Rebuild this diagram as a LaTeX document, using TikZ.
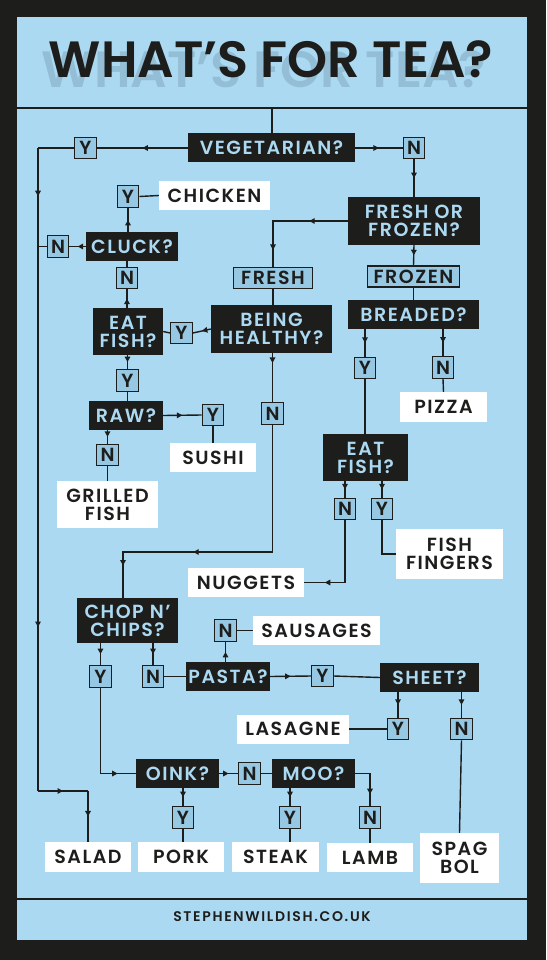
\documentclass[tikz,border=0pt]{standalone}
\usepackage{fontspec}
\newfontfamily\lbl{Poppins SemiBold}[LetterSpace=8]
\newfontfamily\headfont{Poppins SemiBold}
\newfontfamily\sitefont{Poppins SemiBold}[LetterSpace=12]
\usepackage{tikz}
\usetikzlibrary{arrows.meta, positioning, calc, decorations.markings}
\definecolor{mydark}{RGB}{29,29,27}
\definecolor{mysky}{RGB}{172,217,242}
\definecolor{myyn}{RGB}{150,200,228}
\definecolor{myghost}{RGB}{148,190,214}
\newcommand{\tagfont}{\lbl\fontsize{19}{18}\selectfont}
\tikzset{
  ask/.style={rectangle, fill=mydark, text=mysky, font=\tagfont,
    align=center, inner sep=0pt, minimum height=29pt},
  dish/.style={rectangle, fill=white, text=mydark, font=\tagfont,
    align=center, inner sep=0pt, minimum height=29pt},
  yn/.style={rectangle, draw=mydark, fill=myyn, text=mydark, font=\tagfont,
    line width=1.4pt, minimum width=21.5pt, minimum height=21.5pt, inner sep=0pt},
  pick/.style={yn, minimum height=21pt},
  link/.style={line width=1.4pt, draw=mydark},
  rule/.style={line width=1.8pt, draw=mydark},
  tipat/.style={postaction={decorate, decoration={markings,
    mark=at position #1 with {\arrow{Triangle[length=5.5pt,width=5.5pt]}}}}},
  arr/.style={tipat=0.5}
}
\begin{document}
\begin{tikzpicture}[x=1pt, y=-1pt]
  % frame and panel
  \fill[mydark] (0,0) rectangle (546,960);
  \fill[mysky] (17,17) rectangle (527,940);
  \useasboundingbox (0,0) rectangle (546,960);
  \draw[rule] (17,108) -- (527,108);
  \draw[rule] (17,899) -- (527,899);

  % heading with its shadow
  \node[font=\headfont\fontsize{51}{51}\selectfont, text=myghost, anchor=base] (ghost) at (264,88) {WHAT’S FOR TEA?};
  \node[font=\headfont\fontsize{51}{51}\selectfont, text=mydark, anchor=base] (title) at (271,78) {WHAT’S FOR TEA?};
  \node[font=\sitefont\fontsize{14}{14}\selectfont, text=mydark] (site) at (272,917) {STEPHENWILDISH.CO.UK};

  % questions
  \node[ask, minimum width=167pt] (veg) at (271.5,148) {VEGETARIAN?};
  \node[ask, minimum width=132pt, minimum height=48pt] (fof) at (414,221) {FRESH OR\\FROZEN?};
  \node[ask, minimum width=92pt] (cluck) at (132,246.5) {CLUCK?};
  \node[ask, minimum width=70pt, minimum height=47pt] (eatl) at (128,331.5) {EAT\\FISH?};
  \node[ask, minimum width=121pt, minimum height=48pt] (healthy) at (271.5,329) {BEING\\HEALTHY?};
  \node[ask, minimum width=131pt] (breaded) at (413.5,314.5) {BREADED?};
  \node[ask, minimum width=74pt] (raw) at (126,415.5) {RAW?};
  \node[ask, minimum width=85pt, minimum height=47pt] (eatr) at (365.5,457.5) {EAT\\FISH?};
  \node[ask, minimum width=101pt, minimum height=45pt] (chop) at (127.5,620.5) {CHOP N’\\CHIPS?};
  \node[ask, minimum width=84pt] (pasta) at (228,676.5) {PASTA?};
  \node[ask, minimum width=99pt] (sheet) at (429.5,677.5) {SHEET?};
  \node[ask, minimum width=83pt] (oink) at (177.5,773.5) {OINK?};
  \node[ask, minimum width=83pt] (moo) at (313.5,773.5) {MOO?};

  % fresh / frozen
  \node[pick, minimum width=78.5pt] (fresh) at (273,278) {FRESH};
  \node[pick, minimum width=91.5pt] (frozen) at (413.5,276.5) {FROZEN};

  % answers
  \node[yn] (vy) at (85.5,148) {Y};
  \node[yn] (vn) at (414,148) {N};
  \node[yn] (cy) at (128,196.5) {Y};
  \node[yn] (cn) at (58,246.5) {N};
  \node[yn] (en) at (127,278) {N};
  \node[yn] (ey) at (181.5,333) {Y};
  \node[yn] (ey2) at (127.5,380.5) {Y};
  \node[yn] (hn) at (272.5,413.5) {N};
  \node[yn] (ry) at (213,415) {Y};
  \node[yn] (rn) at (107.5,455) {N};
  \node[yn] (by) at (365,368) {Y};
  \node[yn] (bn) at (443,367.5) {N};
  \node[yn] (fn) at (345,509) {N};
  \node[yn] (fy) at (382,509) {Y};
  \node[yn] (cy2) at (100.5,676.5) {Y};
  \node[yn] (cn2) at (153,676.5) {N};
  \node[yn] (pn) at (225.5,630.5) {N};
  \node[yn] (py) at (322.5,676) {Y};
  \node[yn] (sy) at (398,729) {Y};
  \node[yn] (sn) at (461.5,729) {N};
  \node[yn] (on) at (249.5,773.5) {N};
  \node[yn] (oy) at (183,817.5) {Y};
  \node[yn] (my) at (290,817.5) {Y};
  \node[yn] (mn) at (370,817.5) {N};

  % dishes
  \node[dish, minimum width=111pt] (chicken) at (214.5,195.5) {CHICKEN};
  \node[dish, minimum width=87pt, minimum height=30pt] (pizza) at (443.5,407) {PIZZA};
  \node[dish, minimum width=86pt] (sushi) at (213,457.5) {SUSHI};
  \node[dish, minimum width=101pt, minimum height=47pt] (grilled) at (107.5,504.5) {GRILLED\\FISH};
  \node[dish, minimum width=107pt, minimum height=50pt] (fingers) at (449.5,554) {FISH\\FINGERS};
  \node[dish, minimum width=116pt] (nuggets) at (246,582.5) {NUGGETS};
  \node[dish, minimum width=127pt] (sausages) at (316.5,630.5) {SAUSAGES};
  \node[dish, minimum width=112pt] (lasagne) at (293,729) {LASAGNE};
  \node[dish, minimum width=79pt, minimum height=50pt] (spagbol) at (459.5,858) {SPAG\\BOL};
  \node[dish, minimum width=86pt, minimum height=30pt] (salad) at (88,857) {SALAD};
  \node[dish, minimum width=86pt, minimum height=30pt] (pork) at (181,857) {PORK};
  \node[dish, minimum width=87pt, minimum height=30pt] (steak) at (275.5,857) {STEAK};
  \node[dish, minimum width=86pt, minimum height=29pt] (lamb) at (370,857.5) {LAMB};

  % bends
  \coordinate (top) at (272,108);
  \coordinate (lt) at (38,148);
  \coordinate (lb) at (38,791);
  \coordinate (jn) at (123,552);

  % vegetarian
  \draw[link] (top) -- (top |- veg.north);
  \draw[link, arr] (veg.west) -- (vy.east);
  \draw[link] (vy.west) -- (lt);
  \draw[link, tipat=0.075, tipat=0.745] (lt) -- (lb);
  \draw[link, arr] (lb) -- (lb -| salad.north);
  \draw[link, arr] (lb -| salad.north) -- (salad.north);
  \draw[link, arr] (veg.east) -- (vn.west);
  \draw[link, arr] (vn.south) -- (fof.north);

  % fresh or frozen
  \draw[link, tipat=0.32, tipat=0.86] (fof.west) -| (fresh.north);
  \draw[link, arr] (fof.south) -- (frozen.north);
  \draw[link] (frozen.south) -- (breaded.north);
  \draw[link, arr] (breaded.south -| by.north) -- (by.north);
  \draw[link, arr] (breaded.south -| bn.north) -- (bn.north);
  \draw[link] (bn.south) -- (pizza.north);
  \draw[link] (by.south) -- (by.south |- eatr.north);
  \draw[link, arr] (eatr.south -| fn.north) -- (fn.north);
  \draw[link, arr] (eatr.south -| fy.north) -- (fy.north);
  \draw[link] (fy.south) |- (fingers.west);
  \draw[link, tipat=0.8] (fn.south) |- (nuggets.east);

  % fresh side
  \draw[link] (fresh.south) -- (fresh.south |- healthy.north);
  \draw[link, arr] (healthy.west) -- (ey.east);
  \draw[link] (ey.west) -- (eatl.east);
  \draw[link, arr] (eatl.north -| en.south) -- (en.south);
  \draw[link] (en.north) -- (en.north |- cluck.south);
  \draw[link, arr] (cluck.north -| cy.south) -- (cy.south);
  \draw[link] (cy.east) -- (chicken.west);
  \draw[link, arr] (cluck.west) -- (cn.east);
  \draw[link] (cn.west) -- (cn.west -| lt);
  \draw[link, arr] (eatl.south -| ey2.north) -- (ey2.north);
  \draw[link] (ey2.south) -- (ey2.south |- raw.north);
  \draw[link, arr] (raw.east) -- (ry.west);
  \draw[link] (ry.south) -- (sushi.north);
  \draw[link, arr] (raw.south -| rn.north) -- (rn.north);
  \draw[link] (rn.south) -- (grilled.north);
  \draw[link, tipat=0.2] (healthy.south -| hn.north) -- (hn.north);
  \draw[link, tipat=0.64, tipat=0.9] (hn.south) |- (jn) -- (jn |- chop.north);

  % chop n' chips
  \draw[link, arr] (chop.south -| cy2.north) -- (cy2.north);
  \draw[link, arr] (chop.south -| cn2.north) -- (cn2.north);
  \draw[link] (cn2.east) -- (pasta.west);
  \draw[link, arr] (pasta.north -| pn.south) -- (pn.south);
  \draw[link] (pn.east) -- (sausages.west);
  \draw[link, arr] (pasta.east) -- (py.west);
  \draw[link] (py.east) -- (sheet.west);
  \draw[link, arr] (sheet.south -| sy.north) -- (sy.north);
  \draw[link, arr] (sheet.south -| sn.north) -- (sn.north);
  \draw[link] (sy.west) -- (lasagne.east);
  \draw[link] (sn.south) -- (spagbol.north);
  \draw[link, tipat=0.85] (cy2.south) |- (oink.west);
  \draw[link, arr] (oink.east) -- (on.west);
  \draw[link] (on.east) -- (moo.west);
  \draw[link, arr] (oink.south -| oy.north) -- (oy.north);
  \draw[link] (oy.south) -- (oy.south |- pork.north);
  \draw[link, arr] (moo.south -| my.north) -- (my.north);
  \draw[link] (my.south) -- (my.south |- steak.north);
  \draw[link, tipat=0.75] (moo.east) -| (mn.north);
  \draw[link] (mn.south) -- (lamb.north);
\end{tikzpicture}
\end{document}
